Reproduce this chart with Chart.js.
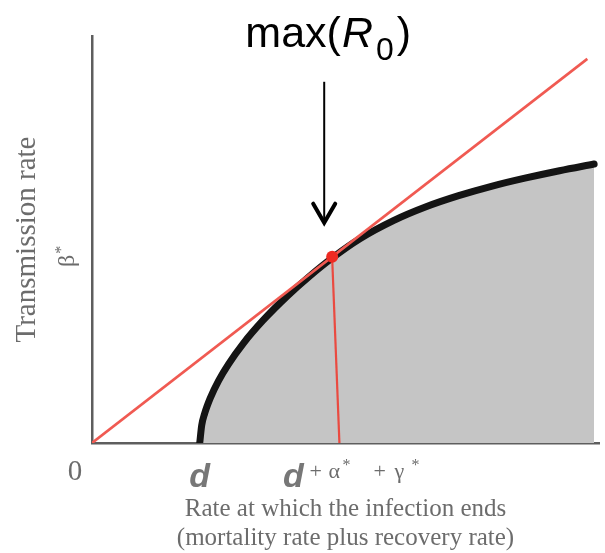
<!DOCTYPE html>
<html>
<head>
<meta charset="utf-8">
<script src="https://cdn.jsdelivr.net/npm/chart.js@4/dist/chart.umd.min.js"></script>
<style>
  html, body { margin: 0; padding: 0; background: #ffffff; }
  canvas { display: block; }
</style>
</head>
<body>
<canvas id="c" width="605" height="553"></canvas>
<script>
// Trade-off curve: transmission rate against the rate at which infection ends
const curveX = [2.125, 2.164, 2.222, 2.339, 2.495, 2.690, 2.982, 3.372, 3.860, 4.288, 4.737, 5.283, 5.945, 6.589, 7.232, 7.895, 8.538, 9.220, 9.903];
const curveY = [0.000, 0.348, 0.580, 0.898, 1.223, 1.547, 1.954, 2.408, 2.896, 3.276, 3.636, 4.014, 4.371, 4.643, 4.861, 5.050, 5.205, 5.352, 5.484];

// Line from the origin touching the curve (slope = max R0)
const tangentX = [0, 9.77];
const tangentY = [0, 7.55];

// Optimum point and the drop line to the x axis
const optimumX = [4.737];
const optimumY = [3.66];
const dropX = [4.737, 4.88];
const dropY = [3.64, 0];

// Axis tick values and labels
const xTickValues = [0, 2.125, 4.88];
const xTickLabels = ['0', 'd', 'd + α* + γ*'];
const yTickValues = [3.64];
const yTickLabels = ['β*'];

// Arrow pointing at the optimum
const arrowX = 4.58;
const arrowFromY = 7.10;
const arrowToY = 4.33;
const arrowLabel = 'max(R0)';

const pts = (xs, ys) => xs.map((v, i) => ({x: v, y: ys[i]}));

const GREY_TEXT = '#6c6c6c';

function drawRuns(ctx, runs, x, baseline) {
  let cx = x;
  for (const r of runs) {
    ctx.font = r.font;
    ctx.fillText(r.t, cx, baseline + (r.dy || 0));
    cx += ctx.measureText(r.t).width + (r.gap || 0);
  }
  return cx;
}

const annotations = {
  id: 'annotations',
  afterDraw(chart) {
    const {ctx, scales: {x, y}} = chart;
    ctx.save();
    ctx.textBaseline = 'alphabetic';

    // x tick labels
    ctx.fillStyle = GREY_TEXT;
    ctx.font = '29px "Liberation Serif"';
    ctx.textAlign = 'center';
    ctx.fillText(xTickLabels[0], x.getPixelForValue(xTickValues[0]) - 17, 480);

    ctx.fillStyle = '#777777';
    ctx.font = 'italic bold 34px "Liberation Sans"';
    ctx.fillText(xTickLabels[1], x.getPixelForValue(xTickValues[1]), 487);

    // d + α* + γ*
    const p3 = x.getPixelForValue(xTickValues[2]);
    ctx.fillText(xTickLabels[2].charAt(0), p3 - 46, 487);
    ctx.textAlign = 'left';
    ctx.fillStyle = GREY_TEXT;
    const serif = '22px "Liberation Serif"';
    const sup = '16px "Liberation Serif"';
    const start = p3 - 30;
    const pieces = [
      {t: '+', at: 0, f: serif, dy: 0},
      {t: 'α', at: 19, f: serif, dy: 0},
      {t: '*', at: 33, f: sup, dy: -8},
      {t: '+', at: 64, f: serif, dy: 0},
      {t: 'γ', at: 85, f: serif, dy: 0},
      {t: '*', at: 102, f: sup, dy: -8}
    ];
    for (const p of pieces) {
      ctx.font = p.f;
      ctx.fillText(p.t, start + p.at, 478 + p.dy);
    }

    // y tick label β*, rotated
    const by = y.getPixelForValue(yTickValues[0]);
    ctx.save();
    ctx.translate(66, by);
    ctx.rotate(-Math.PI / 2);
    ctx.fillStyle = GREY_TEXT;
    ctx.textAlign = 'center';
    ctx.font = '24px "Liberation Serif"';
    ctx.fillText(yTickLabels[0].charAt(0), -3, 8);
    ctx.font = '16px "Liberation Serif"';
    ctx.fillText(yTickLabels[0].charAt(1), 8, 0);
    ctx.restore();

    // arrow
    const ax = x.getPixelForValue(arrowX);
    const ay0 = y.getPixelForValue(arrowFromY);
    const ay1 = y.getPixelForValue(arrowToY);
    ctx.strokeStyle = '#000000';
    ctx.lineWidth = 2;
    ctx.beginPath();
    ctx.moveTo(ax, ay0);
    ctx.lineTo(ax, ay1 - 2);
    ctx.stroke();
    ctx.lineWidth = 4;
    ctx.lineCap = 'round';
    ctx.lineJoin = 'miter';
    ctx.beginPath();
    ctx.moveTo(ax - 11, ay1 - 19);
    ctx.lineTo(ax, ay1);
    ctx.lineTo(ax + 11, ay1 - 19);
    ctx.stroke();

    // max(R0) heading
    ctx.fillStyle = '#000000';
    const big = '43px "Liberation Sans"';
    const bigIt = 'italic 43px "Liberation Sans"';
    const sub = '32px "Liberation Sans"';
    const runs = [
      {t: arrowLabel.slice(0, 4), font: big, gap: 1},
      {t: arrowLabel.charAt(4), font: bigIt, gap: 3},
      {t: arrowLabel.charAt(5), font: sub, dy: 13, gap: 3},
      {t: arrowLabel.charAt(6), font: big}
    ];
    let total = 0;
    for (const r of runs) { ctx.font = r.font; total += ctx.measureText(r.t).width + (r.gap || 0); }
    drawRuns(ctx, runs, ax + 4 - total / 2, 47);

    ctx.restore();
  }
};

new Chart(document.getElementById('c'), {
  type: 'line',
  data: {
    datasets: [
      {
        label: 'optimum',
        data: pts(optimumX, optimumY),
        showLine: false,
        pointRadius: 6,
        pointBackgroundColor: '#ee2a22',
        pointBorderWidth: 0,
        order: 0
      },
      {
        label: 'drop',
        data: pts(dropX, dropY),
        borderColor: '#ea4a40',
        borderWidth: 2.2,
        pointRadius: 0,
        fill: false,
        order: 1
      },
      {
        label: 'tangent',
        data: pts(tangentX, tangentY),
        borderColor: '#f05a52',
        borderWidth: 2.6,
        pointRadius: 0,
        fill: false,
        order: 2
      },
      {
        label: 'trade-off',
        data: pts(curveX, curveY),
        borderColor: '#141414',
        borderWidth: 7,
        borderCapStyle: 'round',
        backgroundColor: '#c5c5c5',
        pointRadius: 0,
        cubicInterpolationMode: 'monotone',
        fill: 'origin',
        order: 3
      }
    ]
  },
  options: {
    responsive: false,
    animation: false,
    devicePixelRatio: 1,
    layout: { padding: { top: 36, right: 0, bottom: 0, left: 0 } },
    plugins: { legend: { display: false }, tooltip: { enabled: false } },
    scales: {
      x: {
        type: 'linear',
        min: 0,
        max: 10,
        grid: { display: false },
        border: { display: true, color: '#5e5e5e', width: 2.5 },
        ticks: { display: false },
        title: {
          display: true,
          text: ['Rate at which the infection ends', '(mortality rate plus recovery rate)'],
          color: GREY_TEXT,
          font: { family: 'Liberation Serif', size: 25, lineHeight: 1.16 },
          padding: { top: 0, bottom: 0 }
        },
        afterFit: (s) => { s.height = 110; }
      },
      y: {
        type: 'linear',
        min: 0,
        max: 8,
        grid: { display: false },
        border: { display: true, color: '#5e5e5e', width: 2.5 },
        ticks: { display: false },
        title: {
          display: true,
          text: 'Transmission rate',
          color: GREY_TEXT,
          font: { family: 'Liberation Serif', size: 29, lineHeight: 1.2 },
          padding: { top: 10, bottom: 0 }
        },
        afterFit: (s) => { s.width = 92; }
      }
    }
  },
  plugins: [annotations]
});
</script>
</body>
</html>
